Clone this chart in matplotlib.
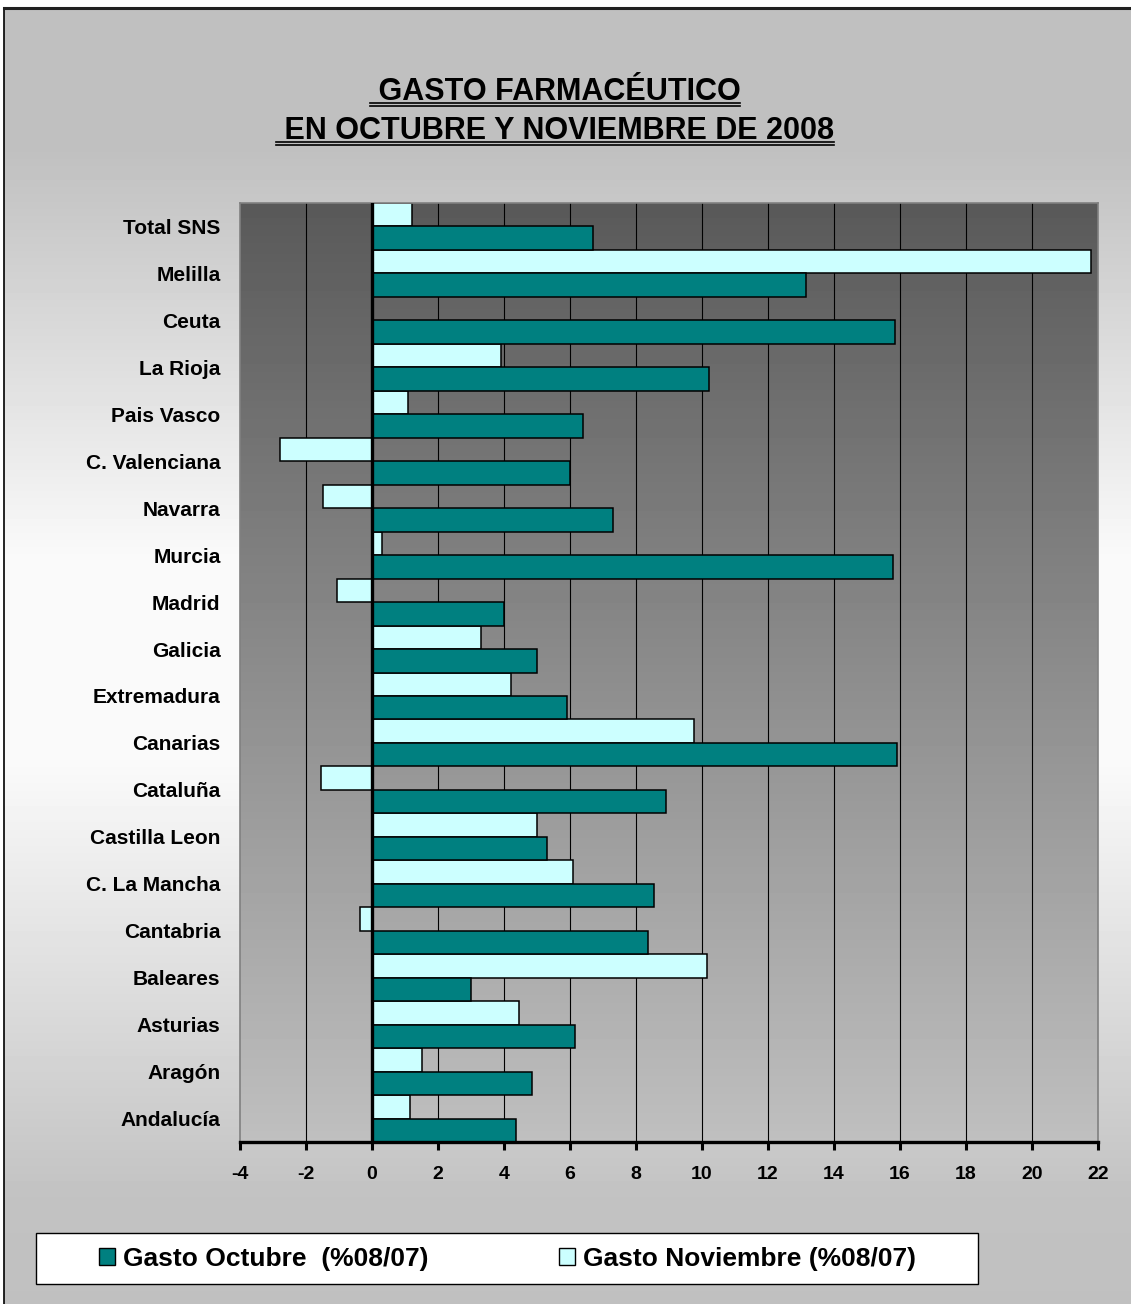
"""
Gasto farmacéutico: variación % 08/07 en octubre y noviembre de 2008 por comunidad
"""

import numpy as np
import matplotlib
matplotlib.use('Agg')
import matplotlib.pyplot as plt
from matplotlib import font_manager
from matplotlib.patches import Rectangle, Patch
from matplotlib.lines import Line2D

# ---------------------------------------------------------
# Datos (de abajo hacia arriba, como en el gráfico)
# ---------------------------------------------------------
categories = ['Andalucía', 'Aragón', 'Asturias', 'Baleares', 'Cantabria',
              'C. La Mancha', 'Castilla Leon', 'Cataluña', 'Canarias',
              'Extremadura', 'Galicia', 'Madrid', 'Murcia', 'Navarra',
              'C. Valenciana', 'Pais Vasco', 'La Rioja', 'Ceuta', 'Melilla',
              'Total SNS']
gasto_octubre = [4.35, 4.85, 6.15, 3.0, 8.35, 8.55, 5.3, 8.9, 15.9, 5.9,
                 5.0, 4.0, 15.8, 7.3, 6.0, 6.4, 10.2, 15.85, 13.15, 6.7]
gasto_noviembre = [1.15, 1.5, 4.45, 10.15, -0.35, 6.1, 5.0, -1.55, 9.75, 4.2,
                   3.3, -1.05, 0.3, -1.5, -2.8, 1.1, 3.9, 0.0, 21.8, 1.2]
x_ticks = [-4, -2, 0, 2, 4, 6, 8, 10, 12, 14, 16, 18, 20, 22]
title_lines = [' GASTO FARMACÉUTICO', ' EN OCTUBRE Y NOVIEMBRE DE 2008']
legend_labels = ['Gasto Octubre  (%08/07)', 'Gasto Noviembre (%08/07)']

COL_OCT = '#008080'
COL_NOV = '#CCFFFF'

W, H = 1131, 1304

# fuente estrecha si existe (tipo Arial Narrow), si no Liberation Sans
_names = {f.name for f in font_manager.fontManager.ttflist}
NARROW = 'Liberation Sans Narrow' if 'Liberation Sans Narrow' in _names else 'Liberation Sans'
plt.rcParams['font.family'] = ['Liberation Sans', 'DejaVu Sans']


def fx(px):
    return px / W


def fy(py):
    return 1 - py / H


fig = plt.figure(figsize=(W / 100, H / 100), dpi=100, facecolor='white')

# fondo degradado del área del gráfico
bg = fig.add_axes([fx(4), 0, 1 - fx(4), fy(8)], zorder=-10)
rows = np.arange(8, H)
grad = np.interp(rows, [8, 150, 560, 760, 1200, H],
                 [0.753, 0.753, 0.98, 0.98, 0.76, 0.753])
bg.imshow(grad[:, None], cmap='gray', vmin=0, vmax=1, aspect='auto',
          extent=(0, 1, 0, 1), origin='upper')
bg.set_axis_off()
fig.add_artist(Line2D([fx(4), fx(4)], [0, fy(8)], color='black', lw=1.2,
                      transform=fig.transFigure))
fig.add_artist(Line2D([fx(4), 1], [fy(8), fy(8)], color='#202020', lw=2.2,
                      transform=fig.transFigure))

# ---------------------------------------------------------
# Área de trazado
# ---------------------------------------------------------
ax = fig.add_axes([fx(240), fy(1142), fx(1098) - fx(240), (1142 - 203) / H])
ax.set_xlim(x_ticks[0], x_ticks[-1])
ax.set_ylim(-0.5, len(categories) - 0.5)
ax.imshow(np.linspace(0.35, 0.75, 256)[:, None], cmap='gray', vmin=0, vmax=1,
          aspect='auto', origin='upper', zorder=0,
          extent=(x_ticks[0], x_ticks[-1], -0.5, len(categories) - 0.5))

for xv in x_ticks[1:-1]:
    ax.axvline(xv, color='black', lw=0.8, zorder=1)

y = np.arange(len(categories))
ax.barh(y + 0.25, gasto_noviembre, height=0.5, color=COL_NOV,
        edgecolor='black', linewidth=1.1, zorder=2)
ax.barh(y - 0.25, gasto_octubre, height=0.5, color=COL_OCT,
        edgecolor='black', linewidth=1.1, zorder=2)
ax.axvline(0, color='black', lw=2.4, zorder=3)

for side in ('top', 'right', 'left'):
    ax.spines[side].set_color('#808080')
    ax.spines[side].set_linewidth(1.2)
ax.spines['bottom'].set_color('black')
ax.spines['bottom'].set_linewidth(2.4)

ax.set_xticks(x_ticks)
ax.set_xticklabels([str(v) for v in x_ticks], fontsize=14, fontweight='bold',
                   fontfamily=NARROW)
ax.tick_params(axis='x', direction='out', length=6, width=2.2, color='black', pad=11)
ax.set_yticks(y)
ax.set_yticklabels(categories, fontsize=15, fontweight='bold')
ax.tick_params(axis='y', length=0, pad=14)

# ---------------------------------------------------------
# Título con doble subrayado
# ---------------------------------------------------------
title_texts = []
for line, base in zip(title_lines, [100, 139]):
    t = fig.text(fx(555), fy(base), line, ha='center', va='baseline',
                 fontsize=22, fontweight='bold', fontfamily=NARROW)
    title_texts.append((t, base))

fig.canvas.draw()
for t, base in title_texts:
    bb = t.get_window_extent()
    for off in (3, 6):
        fig.add_artist(Line2D([fx(bb.x0), fx(bb.x1)], [fy(base + off)] * 2,
                              color='black', lw=1.2, transform=fig.transFigure))

# ---------------------------------------------------------
# Leyenda
# ---------------------------------------------------------
fig.add_artist(Rectangle((fx(36), fy(1284)), fx(978) - fx(36), (1284 - 1233) / H,
                         facecolor='white', edgecolor='black', lw=1.0,
                         transform=fig.transFigure, zorder=5))
for col, lab, xpx in zip([COL_OCT, COL_NOV], legend_labels, [99, 559]):
    fig.legend(handles=[Patch(facecolor=col, edgecolor='black', lw=1.0)],
               labels=[lab], loc='center left',
               bbox_to_anchor=(fx(xpx), fy(1259)), frameon=False,
               borderpad=0, borderaxespad=0, handlelength=0.6,
               handleheight=0.6, handletextpad=0.3,
               prop={'family': NARROW, 'weight': 'bold', 'size': 19})
for leg in fig.legends:
    leg.set_zorder(6)

plt.savefig('out.png', dpi=100, facecolor=fig.get_facecolor())
print('SAVED: out.png')
